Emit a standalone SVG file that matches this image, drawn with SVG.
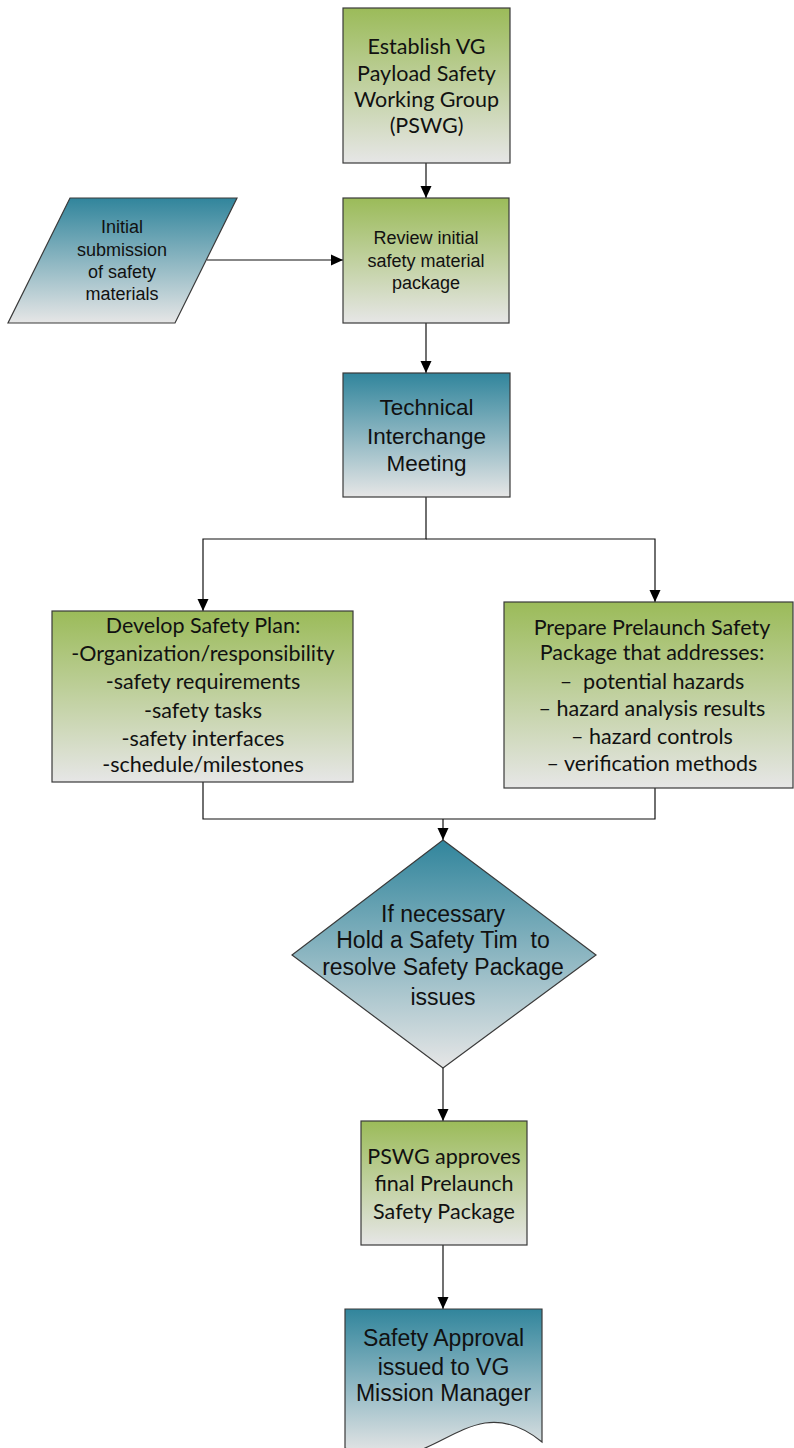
<svg xmlns="http://www.w3.org/2000/svg" width="794" height="1448" viewBox="0 0 794 1448">
  <defs>
    <linearGradient id="gGreen" x1="0" y1="0" x2="0" y2="1">
      <stop offset="0" stop-color="#9BBB59"/>
      <stop offset="1" stop-color="#E6E6E6"/>
    </linearGradient>
    <linearGradient id="gBlue" x1="0" y1="0" x2="0" y2="1">
      <stop offset="0" stop-color="#31859C"/>
      <stop offset="1" stop-color="#E6E6E6"/>
    </linearGradient>
    <marker id="arrow" viewBox="0 0 12 12" refX="12" refY="6" markerWidth="12" markerHeight="12" markerUnits="userSpaceOnUse" orient="auto">
      <path d="M0,0.5 L12,6 L0,11.5 Z" fill="#000"/>
    </marker>
  </defs>
  <style>
    .green { fill: url(#gGreen); stroke: #3a3a3a; stroke-width: 1.2; }
    .blue { fill: url(#gBlue); stroke: #3a3a3a; stroke-width: 1.2; }
    .cal { font-family: Lato, "Open Sans", sans-serif; font-size: 21.5px; fill: #111; text-anchor: middle; }
    .ari { font-family: "Liberation Sans", Arial, sans-serif; fill: #111; text-anchor: middle; }
    .conn { fill: none; stroke: #111; stroke-width: 1.2; }
  </style>

  <g id="connectors">
    <path class="conn" d="M426,163 V198" marker-end="url(#arrow)"/>
    <path class="conn" d="M207,260 H343" marker-end="url(#arrow)"/>
    <path class="conn" d="M426,323 V373" marker-end="url(#arrow)"/>
    <path class="conn" d="M426,497 V539 H203 V611" marker-end="url(#arrow)"/>
    <path class="conn" d="M426,539 H655 V602" marker-end="url(#arrow)"/>
    <path class="conn" d="M203,782 V819 H655 V788"/>
    <path class="conn" d="M443,819 V840" marker-end="url(#arrow)"/>
    <path class="conn" d="M443,1068 V1121" marker-end="url(#arrow)"/>
    <path class="conn" d="M443,1245 V1309" marker-end="url(#arrow)"/>
  </g>

  <g id="establish">
    <rect class="green" x="343" y="8" width="167" height="155"/>
    <text class="cal" x="426.5" y="54">Establish VG</text>
    <text class="cal" x="426.5" y="81">Payload Safety</text>
    <text class="cal" x="426.5" y="107">Working Group</text>
    <text class="cal" x="426.5" y="133">(PSWG)</text>
  </g>

  <g id="submission">
    <polygon class="blue" points="70,198 237,198 175,323 8,323"/>
    <text class="ari" font-size="18" x="122" y="233">Initial</text>
    <text class="ari" font-size="18" x="122" y="256">submission</text>
    <text class="ari" font-size="18" x="122" y="278">of safety</text>
    <text class="ari" font-size="18" x="122" y="300">materials</text>
  </g>

  <g id="review">
    <rect class="green" x="343" y="198" width="166" height="125"/>
    <text class="ari" font-size="18" x="426" y="244">Review initial</text>
    <text class="ari" font-size="18" x="426" y="267">safety material</text>
    <text class="ari" font-size="18" x="426" y="289">package</text>
  </g>

  <g id="tim">
    <rect class="blue" x="343" y="373" width="167" height="124"/>
    <text class="ari" font-size="22.5" x="426.5" y="415">Technical</text>
    <text class="ari" font-size="22.5" x="426.5" y="444">Interchange</text>
    <text class="ari" font-size="22.5" x="426.5" y="471">Meeting</text>
  </g>

  <g id="plan">
    <rect class="green" x="52" y="611" width="301" height="171"/>
    <text class="cal" x="203" y="633">Develop Safety Plan:</text>
    <text class="cal" x="203" y="661">-Organization/responsibility</text>
    <text class="cal" x="203" y="689">-safety requirements</text>
    <text class="cal" x="203" y="718">-safety tasks</text>
    <text class="cal" x="203" y="746">-safety interfaces</text>
    <text class="cal" x="203" y="772">-schedule/milestones</text>
  </g>

  <g id="package">
    <rect class="green" x="504" y="602" width="289" height="186"/>
    <text class="cal" x="652" y="635">Prepare Prelaunch Safety</text>
    <text class="cal" x="652" y="660">Package that addresses:</text>
    <text class="cal" x="652" y="689" xml:space="preserve">–  potential hazards</text>
    <text class="cal" x="652" y="716">– hazard analysis results</text>
    <text class="cal" x="652" y="744">– hazard controls</text>
    <text class="cal" x="652" y="771">– verification methods</text>
  </g>

  <g id="decision">
    <polygon class="blue" points="443,840 596,955 443,1068 292,955"/>
    <text class="ari" font-size="23" x="443" y="922">If necessary</text>
    <text class="ari" font-size="23" x="443" y="948" xml:space="preserve">Hold a Safety Tim  to</text>
    <text class="ari" font-size="23" x="443" y="975">resolve Safety Package</text>
    <text class="ari" font-size="23" x="443" y="1005">issues</text>
  </g>

  <g id="approve">
    <rect class="green" x="361" y="1121" width="166" height="124"/>
    <text class="cal" x="444" y="1164">PSWG approves</text>
    <text class="cal" x="444" y="1191">final Prelaunch</text>
    <text class="cal" x="444" y="1219">Safety Package</text>
  </g>

  <g id="issued">
    <path class="blue" d="M345,1309 H542 V1442 C525,1428 505,1420 485,1423 C455,1428 430,1452 400,1455 C375,1457 355,1452 345,1448 Z"/>
    <text class="ari" font-size="23" x="443.5" y="1346">Safety Approval</text>
    <text class="ari" font-size="23" x="443.5" y="1375">issued to VG</text>
    <text class="ari" font-size="23" x="443.5" y="1401">Mission Manager</text>
  </g>
</svg>
